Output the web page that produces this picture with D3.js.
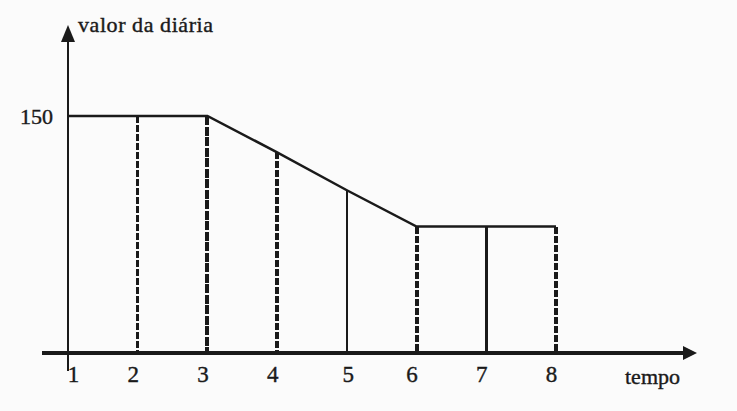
<!DOCTYPE html>
<html>
<head>
<meta charset="utf-8">
<script src="https://cdn.jsdelivr.net/npm/d3@7"></script>
<style>
  html, body { margin: 0; padding: 0; background: #fbfbfb; }
  svg { display: block; }
</style>
</head>
<body>
<div id="chart"></div>
<script>
// data
const tempo = [1, 2, 3, 4, 5, 6, 7, 8];
const valor = [150, 150, 150, 127, 103, 80, 80, 80];
const yTicks = [150];
const xTitle = "tempo";
const yTitle = "valor da diária";

let w = 737, h = 411;
let ink = "#1a1a1a";
let serif = "'Liberation Serif', 'Times New Roman', Times, serif";

let svg = d3.select("#chart")
  .append("svg")
  .attr("width", w)
  .attr("height", h)
  .attr("viewBox", "0 0 " + w + " " + h)
  .style("font-family", serif);

let x = d3.scaleLinear().domain([1, 8]).range([68, 556]);
let y = d3.scaleLinear().domain([0, 150]).range([353, 116]);

// drop lines, each one drawn a bit differently like the scan
let dropStyle = {
  2: {w: 3.5, dash: "7,2"},
  3: {w: 4, dash: "9,1.5"},
  4: {w: 3.5, dash: "7,2"},
  5: {w: 1.5, dash: null},
  6: {w: 4, dash: "7,2"},
  7: {w: 3.5, dash: null},
  8: {w: 4, dash: "7,2"}
};
let pts = tempo.map((t, i) => ({t: t, v: valor[i]}));

svg.append("g").selectAll("line")
  .data(pts.filter(d => d.t > 1))
  .join("line")
  .attr("x1", d => x(d.t))
  .attr("x2", d => x(d.t))
  .attr("y1", d => y(d.v))
  .attr("y2", y(0))
  .attr("stroke", ink)
  .attr("stroke-width", d => dropStyle[d.t].w)
  .attr("stroke-dasharray", d => dropStyle[d.t].dash)
  .attr("shape-rendering", "crispEdges");

// value line
svg.append("path")
  .datum(pts)
  .attr("fill", "none")
  .attr("stroke", ink)
  .attr("stroke-width", 2.5)
  .attr("d", d3.line().x(d => x(d.t)).y(d => y(d.v)));

// x axis
svg.append("line")
  .attr("x1", 42).attr("x2", 686)
  .attr("y1", y(0)).attr("y2", y(0))
  .attr("stroke", ink)
  .attr("stroke-width", 4);
svg.append("path")
  .attr("d", "M683," + (y(0) - 7) + "L697," + y(0) + "L683," + (y(0) + 7) + "Z")
  .attr("fill", ink);

// y axis
svg.append("line")
  .attr("x1", x(1)).attr("x2", x(1))
  .attr("y1", 38).attr("y2", 371)
  .attr("stroke", ink)
  .attr("stroke-width", 2);
svg.append("path")
  .attr("d", "M" + (x(1) - 7) + ",42L" + x(1) + ",25L" + (x(1) + 7) + ",42Z")
  .attr("fill", ink);

// tick labels (heavier, like the bitmap text in the scan)
let xAxis = svg.append("g")
  .attr("transform", "translate(0," + y(0) + ")")
  .call(d3.axisBottom(x).tickValues(tempo).tickFormat(d3.format("d")).tickSize(0).tickPadding(13));
xAxis.select(".domain").remove();
xAxis.attr("font-family", serif);
xAxis.selectAll("text")
  .attr("font-size", 23)
  .attr("fill", ink)
  .attr("stroke", ink)
  .attr("stroke-width", 0.4)
  .attr("dx", d => d === 1 ? 5 : (d === 5 ? 1 : -5));

let yAxis = svg.append("g")
  .attr("transform", "translate(" + x(1) + ",0)")
  .call(d3.axisLeft(y).tickValues(yTicks).tickSize(0).tickPadding(15));
yAxis.select(".domain").remove();
yAxis.attr("font-family", serif);
yAxis.selectAll("text")
  .attr("font-size", 22)
  .attr("fill", ink)
  .attr("stroke", ink)
  .attr("stroke-width", 0.4);

// titles
svg.append("text")
  .attr("x", 78)
  .attr("y", 32)
  .attr("font-family", serif)
  .attr("font-size", 22)
  .attr("textLength", 135)
  .attr("fill", ink)
  .attr("stroke", ink)
  .attr("stroke-width", 0.4)
  .text(yTitle);
svg.append("text")
  .attr("x", 625)
  .attr("y", 384)
  .attr("font-family", serif)
  .attr("font-size", 22)
  .attr("fill", ink)
  .attr("stroke", ink)
  .attr("stroke-width", 0.4)
  .text(xTitle);
</script>
</body>
</html>
